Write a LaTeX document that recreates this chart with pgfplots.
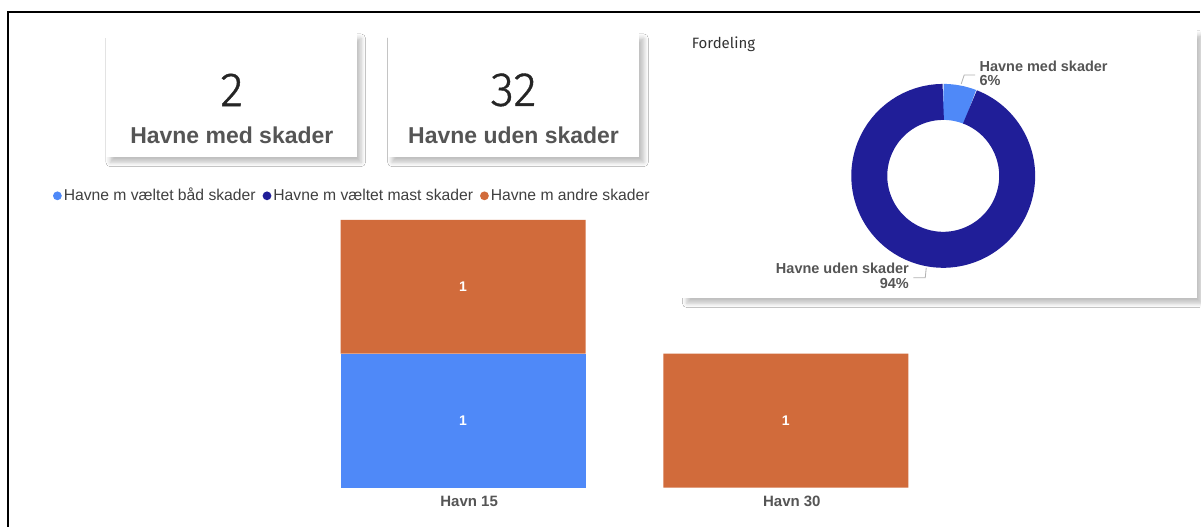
\documentclass[border=0pt]{standalone}
\usepackage{fontspec}
\setmainfont{Liberation Sans}
\newfontfamily\fira{Fira Sans}
\newfontfamily\firalight[FakeBold=0.8]{Fira Sans Light}
\usepackage{pgfplots}
\usepackage{pgfplotstable}
\pgfplotsset{compat=1.18}
\usetikzlibrary{shadows.blur}

\definecolor{pbBlue}{RGB}{79,137,248}
\definecolor{pbNavy}{RGB}{32,30,152}
\definecolor{pbOrange}{RGB}{209,107,59}
\definecolor{txtGray}{RGB}{85,85,85}
\definecolor{legGray}{RGB}{64,64,64}
\definecolor{numDark}{RGB}{37,37,37}

% donut: havne med / uden skader
\pgfplotstableread{
label value
med 2
uden 32
}\fordeling

\begin{document}
\begin{tikzpicture}
% page furniture, in screen pixels (1px = 0.5pt, y downwards)
\begin{scope}[x=0.5pt,y=-0.5pt]
\fill[white] (0,0) rectangle (1201,527);
\draw[black, line width=1pt] (8,527) -- (8,12) -- (1201,12);

\tikzset{card/.style={fill=white, draw=none,
  blur shadow={shadow xshift=2.2pt, shadow yshift=-2.7pt, shadow blur radius=2.2pt, shadow opacity=25}}}

% KPI cards
\path[card] (106,33) rectangle (357,157);
\path[card] (388,33) rectangle (640,157);
\node[font=\firalight\fontsize{24}{28}\selectfont, text=numDark] at (232,90) {2};
\node[font=\firalight\fontsize{24}{28}\selectfont, text=numDark] at (514,90) {32};
\node[font=\bfseries\fontsize{11.5}{13}\selectfont, text=txtGray] at (232,135) {Havne med skader};
\node[font=\bfseries\fontsize{11.5}{13}\selectfont, text=txtGray] at (514,135) {Havne uden skader};

% donut card
\path[card] (683,30) rectangle (1198,298);
\node[anchor=west, font=\fira\fontsize{7.5}{9}\selectfont, text=black!80, inner sep=0pt] at (692,44) {Fordeling};
\end{scope}

% stacked bars
\begin{axis}[
  at={(151pt,-244pt)}, anchor=south west,
  scale only axis, width=323pt, height=134pt,
  xmin=-0.5, xmax=1.5, ymin=0, ymax=2,
  enlargelimits=false, clip=false,
  axis line style={draw=none}, tick style={draw=none},
  ytick=\empty, xtick={0,1}, xticklabels={Havn 15, Havn 30},
  xticklabel style={anchor=center, yshift=-7pt, xshift=3pt, font=\bfseries\fontsize{7.5}{9}\selectfont, text=txtGray},
  ybar stacked, bar width=122.5pt,
  point meta=explicit,
  nodes near coords={\pgfmathfloatifflags{\pgfplotspointmeta}{0}{}{\bfseries\fontsize{7}{8}\selectfont\pgfmathprintnumber[assume math mode=true]{\pgfplotspointmeta}}},
  every node near coord/.append style={anchor=center, text=white},
  legend image code/.code={\fill[#1, draw=none] (2.2pt,0pt) circle (2.2pt);},
  legend style={at={(-0.386,1.0896)}, anchor=west, draw=none, fill=none, inner sep=0pt,
    legend columns=3, font=\fontsize{7.85}{9}\selectfont, text=legGray,
    nodes={inner sep=1pt},
    /tikz/every even column/.append style={column sep=2.5pt}},
  legend cell align=left,
]
\addplot[fill=pbBlue, draw=none] coordinates {(0,1) [1] (1,0) [0]};
\addlegendentry{Havne m væltet båd skader}
\addplot[fill=pbNavy, draw=none] coordinates {(0,0) [0] (1,0) [0]};
\addlegendentry{Havne m væltet mast skader}
\addplot[fill=pbOrange, draw=none] coordinates {(0,1) [1] (1,1) [1]};
\addlegendentry{Havne m andre skader}
\end{axis}

% donut
\pgfplotstablegetelem{0}{value}\of\fordeling \let\vMed\pgfplotsretval
\pgfplotstablegetelem{1}{value}\of\fordeling \let\vUden\pgfplotsretval
\pgfmathsetmacro\aSplit{90-360*\vMed/(\vMed+\vUden)}
\begin{axis}[
  at={(472pt,-88pt)}, anchor=center,
  scale only axis, width=93pt, height=93pt,
  xmin=-1, xmax=1, ymin=-1, ymax=1, hide axis, clip=false,
]
\draw[pbBlue, line width=18pt] (axis cs:0,0) ++(90:37pt) arc[start angle=90, end angle=\aSplit, radius=37pt];
\draw[pbNavy, line width=18pt] (axis cs:0,0) ++(\aSplit:37pt) arc[start angle=\aSplit, end angle=-270, radius=37pt];
\end{axis}

\begin{scope}[x=0.5pt,y=-0.5pt]
\draw[gray!60, line width=0.4pt] (962,84) -- (965,75) -- (976,75);
\draw[gray!60, line width=0.4pt] (914,278) -- (926,278) -- (927,268);
\node[anchor=west, inner sep=0pt, font=\bfseries\fontsize{7.25}{8.5}\selectfont, text=txtGray] at (980,66) {Havne med skader};
\node[anchor=west, inner sep=0pt, font=\bfseries\fontsize{7.25}{8.5}\selectfont, text=txtGray] at (980,81) {6\%};
\node[anchor=east, inner sep=0pt, font=\bfseries\fontsize{7.25}{8.5}\selectfont, text=txtGray] at (910,269) {Havne uden skader};
\node[anchor=east, inner sep=0pt, font=\bfseries\fontsize{7.25}{8.5}\selectfont, text=txtGray] at (910,284) {94\%};
\end{scope}
\end{tikzpicture}
\end{document}
